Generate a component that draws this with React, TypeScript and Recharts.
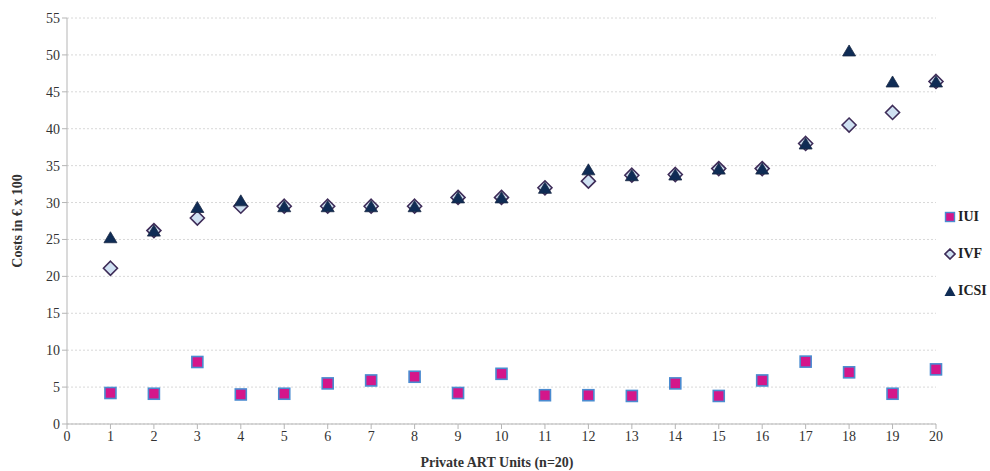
import React from "react";
import {
  ScatterChart,
  Scatter,
  XAxis,
  YAxis,
  CartesianGrid,
} from "recharts";

// Private ART units, costs in € x 100
const units = [1, 2, 3, 4, 5, 6, 7, 8, 9, 10, 11, 12, 13, 14, 15, 16, 17, 18, 19, 20];
const iui = [4.2, 4.1, 8.4, 4.0, 4.1, 5.5, 5.9, 6.4, 4.2, 6.8, 3.9, 3.9, 3.8, 5.5, 3.8, 5.9, 8.45, 7.0, 4.1, 7.4];
const ivf = [21.1, 26.2, 27.9, 29.5, 29.5, 29.5, 29.5, 29.5, 30.7, 30.7, 32.0, 32.9, 33.7, 33.8, 34.6, 34.6, 38.0, 40.5, 42.2, 46.4];
const icsi = [25.3, 26.2, 29.4, 30.3, 29.5, 29.5, 29.5, 29.5, 30.7, 30.7, 32.0, 34.5, 33.7, 33.8, 34.6, 34.6, 38.0, 50.6, 46.4, 46.4];
const xTicks = [0, 1, 2, 3, 4, 5, 6, 7, 8, 9, 10, 11, 12, 13, 14, 15, 16, 17, 18, 19, 20];
const yTicks = [0, 5, 10, 15, 20, 25, 30, 35, 40, 45, 50, 55];

const toPoints = (vals: number[]) => vals.map((v, i) => ({ x: units[i], y: v }));

const FONT = '"Liberation Serif", "Times New Roman", serif';
const PINK = "#d4168a";
const PINK_EDGE = "#4a8bd0";
const DIAMOND_FILL = "#cfe1f2";
const DIAMOND_EDGE = "#3e2c58";
const NAVY = "#0f2c55";

const SquareShape = (props: any) => {
  const { cx, cy } = props;
  const s = 5.5;
  return (
    <rect x={cx - s} y={cy - s} width={s * 2} height={s * 2} fill={PINK} stroke={PINK_EDGE} strokeWidth={1.6} />
  );
};

const DiamondShape = (props: any) => {
  const { cx, cy } = props;
  const r = 7;
  return (
    <polygon
      points={`${cx},${cy - r} ${cx + r},${cy} ${cx},${cy + r} ${cx - r},${cy}`}
      fill={DIAMOND_FILL}
      stroke={DIAMOND_EDGE}
      strokeWidth={1.6}
    />
  );
};

const TriangleShape = (props: any) => {
  const { cx, cy } = props;
  const w = 6.5;
  const h = 5.5;
  return (
    <polygon
      points={`${cx},${cy - h} ${cx + w},${cy + h} ${cx - w},${cy + h}`}
      fill={NAVY}
      stroke="#1b2a45"
      strokeWidth={0.8}
    />
  );
};

const legendItems = [
  { name: "IUI", icon: (
    <svg width="12" height="12"><rect x="1.5" y="1.5" width="9" height="9" fill={PINK} stroke={PINK_EDGE} strokeWidth={1.4} /></svg>
  ) },
  { name: "IVF", icon: (
    <svg width="12" height="12"><polygon points="6,1 11,6 6,11 1,6" fill={DIAMOND_FILL} stroke={DIAMOND_EDGE} strokeWidth={1.6} /></svg>
  ) },
  { name: "ICSI", icon: (
    <svg width="12" height="12"><polygon points="6,1 11.5,11 0.5,11" fill={NAVY} /></svg>
  ) },
];

const tickStyle = { fontSize: 14, fill: "#333", fontFamily: FONT };

export default function App() {
  return (
    <div style={{ position: "absolute", left: 0, top: 0, width: 990, height: 471, background: "#fff", fontFamily: FONT }}>
      <ScatterChart
        width={990}
        height={471}
        margin={{ top: 18, right: 54, left: 10, bottom: 7 }}
        style={{ fontFamily: FONT }}
      >
        <CartesianGrid vertical={false} strokeDasharray="2 2" stroke="#d8d8d8" />
        <XAxis
          type="number"
          dataKey="x"
          domain={[0, 20]}
          ticks={xTicks}
          interval={0}
          height={40}
          axisLine={{ stroke: "#b5b5b5" }}
          tickLine={{ stroke: "#b5b5b5" }}
          tickSize={5}
          tick={tickStyle}
        />
        <YAxis
          type="number"
          dataKey="y"
          domain={[0, 55]}
          ticks={yTicks}
          interval={0}
          width={57}
          axisLine={{ stroke: "#b5b5b5" }}
          tickLine={{ stroke: "#b5b5b5" }}
          tickSize={5}
          tick={tickStyle}
        />
        <Scatter name="IUI" data={toPoints(iui)} shape={SquareShape} isAnimationActive={false} />
        <Scatter name="IVF" data={toPoints(ivf)} shape={DiamondShape} isAnimationActive={false} />
        <Scatter name="ICSI" data={toPoints(icsi)} shape={TriangleShape} isAnimationActive={false} />
      </ScatterChart>

      {/* axis titles */}
      <div
        style={{
          position: "absolute",
          left: 18,
          top: 221,
          transform: "translate(-50%, -50%) rotate(-90deg)",
          whiteSpace: "nowrap",
          fontWeight: "bold",
          fontSize: 14,
          color: "#333",
        }}
      >
        Costs in € x 100
      </div>
      <div
        style={{
          position: "absolute",
          left: 497,
          top: 463,
          transform: "translate(-50%, -50%)",
          whiteSpace: "nowrap",
          fontWeight: "bold",
          fontSize: 14,
          color: "#333",
        }}
      >
        Private ART Units (n=20)
      </div>

      {/* legend */}
      <div style={{ position: "absolute", left: 944, top: 198 }}>
        {legendItems.map((item) => (
          <div key={item.name} style={{ display: "flex", alignItems: "center", height: 37, gap: 2 }}>
            {item.icon}
            <span style={{ fontWeight: "bold", fontSize: 14, color: "#222" }}>{item.name}</span>
          </div>
        ))}
      </div>
    </div>
  );
}
